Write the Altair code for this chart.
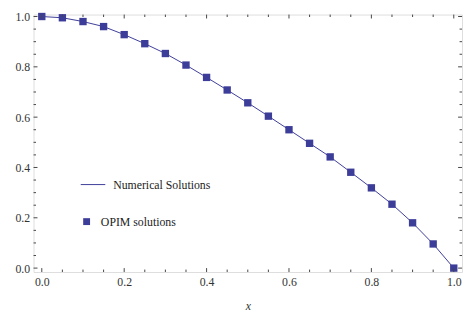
import altair as alt
import pandas as pd

# ---- data ----
x_vals = [0.0, 0.05, 0.1, 0.15, 0.2, 0.25, 0.3, 0.35, 0.4, 0.45, 0.5,
          0.55, 0.6, 0.65, 0.7, 0.75, 0.8, 0.85, 0.9, 0.95, 1.0]
y_vals = [1.0, 0.995, 0.98, 0.96, 0.928, 0.892, 0.853, 0.807, 0.758, 0.708, 0.657,
          0.604, 0.55, 0.496, 0.442, 0.381, 0.319, 0.254, 0.18, 0.096, 0.0]

x_major = [0.0, 0.2, 0.4, 0.6, 0.8, 1.0]
x_minor = [0.05, 0.1, 0.15, 0.25, 0.3, 0.35, 0.45, 0.5, 0.55,
           0.65, 0.7, 0.75, 0.85, 0.9, 0.95]
y_major = [0.0, 0.2, 0.4, 0.6, 0.8, 1.0]
y_minor = [0.05, 0.1, 0.15, 0.25, 0.3, 0.35, 0.45, 0.5, 0.55,
           0.65, 0.7, 0.75, 0.85, 0.9, 0.95]

legend_labels = ["Numerical Solutions", "OPIM solutions"]

# ---- styling ----
W, H = 436, 262
C = "#3c3c99"
TC = "#444444"
FONT = "Liberation Serif"

xs = alt.Scale(domain=[-0.02, 1.02], nice=False, zero=False)
ys = alt.Scale(domain=[-0.0156, 1.0078], nice=False, zero=False)

xaxis = alt.Axis(values=x_major, format=".1f", ticks=False, tickSize=0, domain=False,
                 grid=False, labelFont=FONT, labelFontSize=12, labelColor="#333333",
                 labelPadding=5, labelOverlap=False, labelFlush=False,
                 title="x", titleFont=FONT, titleFontSize=12, titleFontStyle="italic",
                 titleFontWeight="normal", titleColor="#333333", titleY=38,
                 titleBaseline="alphabetic")
yaxis = alt.Axis(values=y_major, format=".1f", ticks=False, tickSize=0, domain=False,
                 grid=False, labelFont=FONT, labelFontSize=12, labelColor="#333333",
                 labelPadding=4, labelOverlap=False, labelFlush=False, title=None)

X = lambda: alt.X("x:Q", scale=xs, axis=xaxis, title="x")
Y = lambda: alt.Y("y:Q", scale=ys, axis=yaxis, title=None)

df = pd.DataFrame({"x": x_vals, "y": y_vals})
base = alt.Chart(df)

line = base.mark_line(color=C, strokeWidth=1).encode(x=X(), y=Y())
pts = base.mark_square(color=C, size=56, opacity=1).encode(x=X(), y=Y())


def xtick_layers(vals, length):
    d = alt.Chart(pd.DataFrame({"x": vals}))
    bottom = d.mark_rule(color=TC, strokeWidth=1).encode(
        x=X(), y=alt.value(H), y2=alt.value(H - length))
    top = d.mark_rule(color=TC, strokeWidth=1).encode(
        x=X(), y=alt.value(0), y2=alt.value(length))
    return [bottom, top]


def ytick_layers(vals, length):
    d = alt.Chart(pd.DataFrame({"y": vals}))
    left = d.mark_rule(color=TC, strokeWidth=1).encode(
        y=Y(), x=alt.value(0), x2=alt.value(length))
    right = d.mark_rule(color=TC, strokeWidth=1).encode(
        y=Y(), x=alt.value(W), x2=alt.value(W - length))
    return [left, right]


ticks = (xtick_layers(x_major, 4) + xtick_layers(x_minor, 2.5)
         + ytick_layers(y_major, 4) + ytick_layers(y_minor, 2.5))

# ---- legend (drawn inside the frame) ----
leg1 = alt.Chart(pd.DataFrame({"label": [legend_labels[0]]}))
leg2 = alt.Chart(pd.DataFrame({"label": [legend_labels[1]]}))
leg_line = leg1.mark_rule(color=C, strokeWidth=1).encode(
    x=alt.value(48), x2=alt.value(73), y=alt.value(173))
leg_text1 = leg1.mark_text(align="left", baseline="middle", font=FONT, fontSize=12,
                           color="#222222").encode(
    text="label:N", x=alt.value(81), y=alt.value(173.5))
leg_sq = leg2.mark_square(color=C, size=49, opacity=1).encode(
    x=alt.value(54), y=alt.value(210.7))
leg_text2 = leg2.mark_text(align="left", baseline="middle", font=FONT, fontSize=12,
                           color="#222222").encode(
    text="label:N", x=alt.value(68.5), y=alt.value(211.5))

chart = alt.layer(line, pts, *ticks, leg_line, leg_text1, leg_sq, leg_text2).properties(
    width=W, height=H,
    autosize=alt.AutoSizeParams(type="none"),
    padding={"left": 26, "top": 4, "right": 1, "bottom": 38},
).configure_view(stroke="#888888", strokeWidth=1).configure(font=FONT)

chart.save("out.html", embed_options={"renderer": "svg", "actions": False})
